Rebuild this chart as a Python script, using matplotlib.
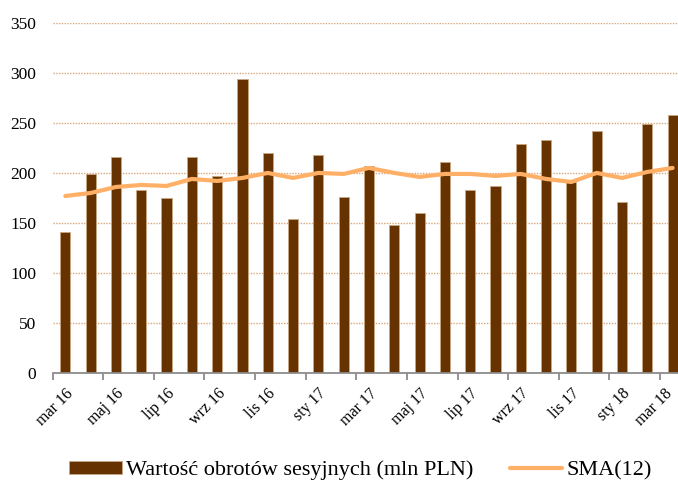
import matplotlib
matplotlib.use("Agg")
import matplotlib.pyplot as plt
import matplotlib.transforms as mtransforms
import numpy as np

# monthly data, mar 16 .. mar 18
months = ['mar 16', 'kwi 16', 'maj 16', 'cze 16', 'lip 16', 'sie 16', 'wrz 16', 'paź 16',
          'lis 16', 'gru 16', 'sty 17', 'lut 17', 'mar 17', 'kwi 17', 'maj 17', 'cze 17',
          'lip 17', 'sie 17', 'wrz 17', 'paź 17', 'lis 17', 'gru 17', 'sty 18', 'lut 18', 'mar 18']
turnover = [141, 199, 216, 183, 175, 216, 197, 294, 220, 154, 218, 176, 207,
            148, 160, 211, 183, 187, 229, 233, 191, 242, 171, 249, 258]
sma12 = [177, 180, 186, 188, 187, 194, 192, 195, 200, 195, 200, 199, 205,
         200, 196, 199, 199, 197, 199, 194, 191, 200, 195, 201, 205]

plt.rcParams['font.family'] = ['Liberation Serif', 'DejaVu Serif']

fig = plt.figure(figsize=(6.78, 4.82), dpi=100)
ax = fig.add_axes([0.0777, 0.2255, 0.933, 0.7275])

x = np.arange(len(months))
bars = ax.bar(x, turnover, width=0.4, color='#663300', edgecolor='#c9a882', linewidth=0.6,
              label='Wartość obrotów sesyjnych (mln PLN)', zorder=2)
line, = ax.plot(x, sma12, color='#ffb066', linewidth=3, label='SMA(12)', zorder=3,
                solid_capstyle='round')

ax.set_xlim(-0.5, len(months) - 0.5)
ax.set_ylim(0, 350)
ax.set_yticks(range(0, 351, 50))
ax.yaxis.grid(True, linestyle=(0, (1, 1)), color='#d9a67a', linewidth=1.0, zorder=0)

for s in ['top', 'right', 'left']:
    ax.spines[s].set_visible(False)
ax.spines['bottom'].set_color('#8c8c8c')
ax.spines['bottom'].set_linewidth(1.3)

ax.tick_params(axis='y', length=0, pad=12, labelsize=12.5)
ax.set_xticks(x[::2])
ax.set_xticklabels(months[::2], rotation=45, ha='right', rotation_mode='anchor', fontsize=11.5)
ax.tick_params(axis='x', which='major', length=0, pad=9)
ax.set_xticks(np.arange(-0.5, len(months), 2), minor=True)
ax.tick_params(axis='x', which='minor', length=5, width=1.3, color='#8c8c8c')

fig.legend(handles=[bars, line], loc='center', bbox_to_anchor=(0.532, 0.024), ncol=2,
           frameon=False, fontsize=16, handlelength=2.35, handleheight=0.55,
           columnspacing=1.65, handletextpad=0.2)

# keep the last label inside the picture
fig.canvas.draw()
labels = ax.get_xticklabels()
over = labels[-1].get_window_extent().x1 - (fig.bbox.width - 2)
if over > 0:
    shift = mtransforms.ScaledTranslation(-over / fig.dpi, 0, fig.dpi_scale_trans)
    labels[-1].set_transform(labels[-1].get_transform() + shift)

fig.savefig('out.png', dpi=100)
